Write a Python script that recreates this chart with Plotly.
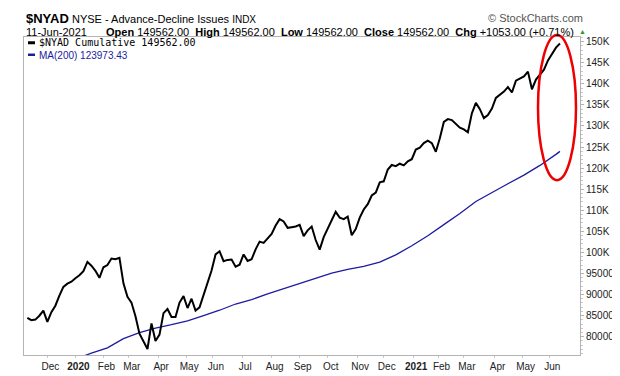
import pandas as pd
import plotly.graph_objects as go

# ---------------- data ----------------
HOLIDAYS = ["2019-11-28", "2019-12-25", "2020-01-01", "2020-01-20", "2020-02-17",
            "2020-04-10", "2020-05-25", "2020-07-03", "2020-09-07", "2020-11-26",
            "2020-12-25", "2021-01-01", "2021-01-18", "2021-02-15", "2021-04-02",
            "2021-05-31"]
START_DATE = "2019-11-06"
END_DATE = "2021-06-11"

# $NYAD cumulative, read every 3rd trading day (ending on 11-Jun-2021)
NYAD = [84450, 83930, 84060, 84980, 86210, 83540, 85820, 87350, 89770, 91830,
        92600, 93060, 93880, 94570, 95570, 97760, 96850, 95640, 93970, 96480,
        97010, 98540, 98380, 98720, 92670, 89470, 88100, 84840, 80730, 78970,
        77080, 83150, 78970, 80500, 85590, 86580, 84680, 84680, 88100, 89630,
        86800, 89020, 86210, 86960, 89700, 92970, 95710, 99520, 100270, 97920,
        98220, 98310, 96620, 97080, 99520, 97990, 98380, 100730, 102560, 102260,
        103240, 104380, 106370, 107900, 107350, 105840, 105980, 106140, 106530, 103860,
        105230, 106140, 102940, 100660, 103630, 105570, 107670, 109630, 108260, 107900,
        108490, 104090, 105520, 108260, 110180, 111460, 113510, 114200, 116640, 116870,
        119680, 120750, 120460, 121050, 120640, 121600, 122120, 124400, 124860, 125930,
        126530, 125930, 123880, 127080, 130960, 131640, 131410, 130500, 129590, 129200,
        128510, 133010, 135480, 133990, 131870, 132620, 134150, 136660, 137420, 138170,
        139240, 137940, 140770, 141230, 141760, 142900, 138720, 141000, 142140, 143350,
        145570, 147080, 148600, 149562]

# MA(200), read every 12th trading day from early 2020 (first point below the axis)
MA200 = [74630, 76120, 77370, 79540, 80960, 82030, 82850, 83770, 85020, 86280,
         87760, 88790, 90160, 91420, 92560, 93810, 95070, 95980, 96670, 97690,
         99410, 101570, 103970, 106600, 109220, 112080, 114250, 116300, 118350, 120640,
         123260, 123973.43]

MONTH_LABELS = ["Dec", "<b>2020</b>", "Feb", "Mar", "Apr", "May", "Jun", "Jul", "Aug",
                "Sep", "Oct", "Nov", "Dec", "<b>2021</b>", "Feb", "Mar", "Apr", "May", "Jun"]
Y_TICKS = [80000, 85000, 90000, 95000, 100000, 105000, 110000, 115000, 120000,
           125000, 130000, 135000, 140000, 145000, 150000]
Y_TICK_LABELS = ["80000", "85000", "90000", "95000", "100K", "105K", "110K", "115K",
                 "120K", "125K", "130K", "135K", "140K", "145K", "150K"]

# ---------------- calendar ----------------
trading_days = pd.bdate_range(START_DATE, END_DATE, freq="C", holidays=HOLIDAYS)
sample_dates = trading_days[::-1][::3][::-1]
nyad_dates = list(sample_dates[-len(NYAD):])
ma_dates = list(sample_dates[12:-1:4]) + [sample_dates[-1]]
ma_dates = ma_dates[-len(MA200):]

month_first = pd.Series(trading_days).groupby(trading_days.to_period("M")).min()
tick_dates = list(month_first.values[1:])[:len(MONTH_LABELS)]

# ---------------- figure ----------------
W, H = 620, 376
ML, MR, MT, MB = 16, 48, 29, 16
PW, PH = W - ML - MR, H - MT - MB


def px(x):
    return (x - ML) / PW


def py(y):
    return (H - MB - y) / PH


fig = go.Figure()
fig.add_trace(go.Scatter(x=ma_dates, y=MA200, mode="lines",
                         line=dict(color="#1c1ca0", width=1.3), hoverinfo="skip"))
fig.add_trace(go.Scatter(x=nyad_dates, y=NYAD, mode="lines",
                         line=dict(color="#000000", width=2), hoverinfo="skip"))

FONT = "Liberation Sans, Arial, sans-serif"
MA_COLOR = "#1c1ca0"

fig.update_layout(
    width=W, height=H,
    margin=dict(l=ML, r=MR, t=MT, b=MB),
    paper_bgcolor="white", plot_bgcolor="white",
    showlegend=False,
    font=dict(family=FONT, size=10, color="#222222"),
)
fig.update_xaxes(
    type="date",
    range=["2019-11-05 12:00", "2021-07-02"],
    rangebreaks=[dict(bounds=["sat", "mon"]), dict(values=HOLIDAYS)],
    tickmode="array", tickvals=tick_dates, ticktext=MONTH_LABELS,
    ticklabelshift=3,
    showgrid=False, zeroline=False,
    showline=True, linecolor="#b4b4b4", linewidth=1, mirror=True,
    ticks="outside", ticklen=2, tickcolor="#c8c8c8",
    tickfont=dict(family=FONT, size=10, color="#222222"),
)
fig.update_yaxes(
    side="right",
    range=[75660, 151115],
    tickmode="array", tickvals=Y_TICKS, ticktext=Y_TICK_LABELS,
    showgrid=False, zeroline=False,
    showline=True, linecolor="#b4b4b4", linewidth=1, mirror=True,
    ticks="outside", ticklen=3, tickcolor="#b4b4b4",
    minor=dict(ticks="outside", ticklen=2, dtick=1000, tickcolor="#c8c8c8"),
    tickfont=dict(family=FONT, size=10, color="#222222"),
)

LEG1_Y, LEG2_Y = 35, 47.5

annotations = [
    dict(x=px(16), y=py(9.5), xanchor="left", yanchor="middle",
         text="<span style='font-family:Liberation Sans Narrow, Liberation Sans, Arial; font-size:13px'><b>$NYAD</b></span>"
              " NYSE - Advance-Decline Issues <span style='font-size:10px'>INDX</span>",
         font=dict(family=FONT, size=11, color="#000000")),
    dict(x=px(577), y=py(9.5), xanchor="right", yanchor="middle",
         text="© StockCharts.com", font=dict(family=FONT, size=11, color="#555555")),
    dict(x=px(16), y=py(23.5), xanchor="left", yanchor="middle",
         text="11-Jun-2021", font=dict(family=FONT, size=11, color="#000000")),
    dict(x=px(568), y=py(23.5), xanchor="right", yanchor="middle",
         text="<b>Open</b> 149562.00  <b>High</b> 149562.00  <b>Low</b> 149562.00  "
              "<b>Close</b> 149562.00  <b>Chg</b> +1053.00 (+0.71%)",
         font=dict(family=FONT, size=11, color="#000000")),
    dict(x=px(574), y=py(23.5), xanchor="center", yanchor="middle",
         text="▲", font=dict(family=FONT, size=7, color="#2e9a2e")),
    dict(x=px(29), y=py((LEG1_Y + LEG2_Y) / 2), xanchor="left", yanchor="middle",
         align="left",
         text="<span style='font-family:DejaVu Sans Mono, monospace'>$NYAD Cumulative 149562.00</span>"
              "<br><span style='color:" + MA_COLOR + "'>MA(200) 123973.43</span>",
         font=dict(family=FONT, size=10, color="#000000")),
]
for a in annotations:
    a.update(xref="paper", yref="paper", showarrow=False)
fig.update_layout(annotations=annotations)

shapes = [
    dict(type="line", x0=px(20), x1=px(27), y0=py(LEG1_Y), y1=py(LEG1_Y),
         line=dict(color="#000000", width=3)),
    dict(type="line", x0=px(20), x1=px(27), y0=py(LEG2_Y), y1=py(LEG2_Y),
         line=dict(color=MA_COLOR, width=2.5)),
    dict(type="circle", x0=px(530), x1=px(568), y0=py(178), y1=py(27),
         line=dict(color="#ee0000", width=2.5)),
]
for s in shapes:
    s.update(xref="paper", yref="paper")
fig.update_layout(shapes=shapes)

fig.write_html("out.html")
